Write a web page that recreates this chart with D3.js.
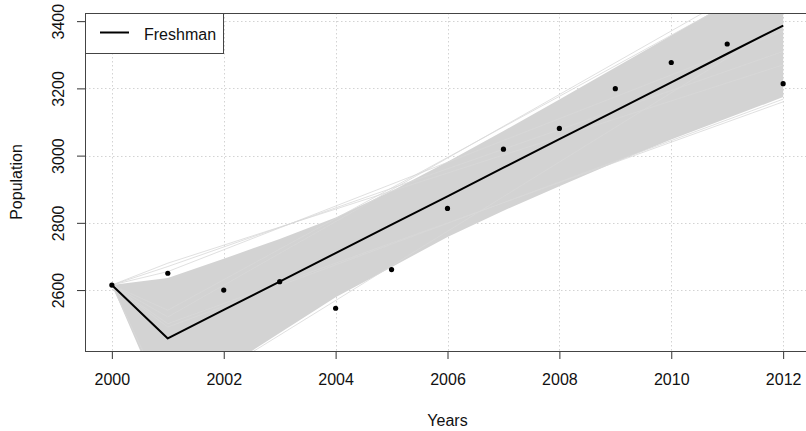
<!DOCTYPE html>
<html>
<head>
<meta charset="utf-8">
<script src="https://cdn.jsdelivr.net/npm/d3@7"></script>
<style>
  html, body { margin: 0; padding: 0; background: #fff; }
  svg { display: block; }
  text { font-family: "Liberation Sans", Arial, sans-serif; fill: #111; }
</style>
</head>
<body>
<svg id="chart" width="806" height="431"></svg>
<script>
// Freshman enrolment, observed counts and fitted trend
const years = [2000, 2001, 2002, 2003, 2004, 2005, 2006, 2007, 2008, 2009, 2010, 2011, 2012];
const freshman = [2615, 2650, 2600, 2625, 2546, 2661, 2843, 3019, 3081, 3199, 3277, 3332, 3214];
const fitted = [2615, 2456, 2541, 2625, 2710, 2795, 2879, 2964, 3049, 3133, 3218, 3303, 3387];

// Envelope of the simulated trajectories
const bandUpper = [2615, 2636, 2693, 2752, 2816, 2895, 2982, 3073, 3167, 3262, 3357, 3452, 3548];
const bandLower = [2615, 2230, 2365, 2472, 2579, 2668, 2758, 2836, 2909, 2980, 3048, 3111, 3174];

// A few stray trajectories at the edge of the envelope (2000, 2001, 2012)
const strayYears = [2000, 2001, 2012];
const strayUpper1 = [2615, 2680, 3270];
const strayUpper2 = [2615, 2670, 3310];
const strayUpper3 = [2615, 2655, 3370];
const strayUpper4 = [2615, 2520, 3560];
const strayUpper5 = [2615, 2540, 3540];
const strayLower1 = [2615, 2260, 3393];
const strayLower2 = [2615, 2500, 3160];
const strayLower3 = [2615, 2490, 3168];

const xTicks = [2000, 2002, 2004, 2006, 2008, 2010, 2012];
const yTicks = [2600, 2800, 3000, 3200, 3400];
const seriesName = "Freshman";
const xTitle = "Years";
const yTitle = "Population";

const svg = d3.select("#chart");
const plot = { left: 85, right: 810, top: 13, bottom: 351 };

// R-style 4% padding around the data range
const xMin = d3.min(years), xMax = d3.max(years);
const xPad = (xMax - xMin) * 0.04;
const x = d3.scaleLinear().domain([xMin - xPad, xMax + xPad]).range([plot.left, plot.right]);
const yLo = d3.min(fitted), yHi = d3.max(fitted);
const yPad = (yHi - yLo) * 0.04;
const y = d3.scaleLinear().domain([yLo - yPad, yHi + yPad]).range([plot.bottom, plot.top]);

svg.append("defs").append("clipPath").attr("id", "plotClip")
  .append("rect")
  .attr("x", plot.left).attr("y", plot.top)
  .attr("width", plot.right - plot.left).attr("height", plot.bottom - plot.top);

// grid
const grid = svg.append("g").attr("stroke", "#d3d3d3").attr("stroke-width", 1)
  .attr("stroke-dasharray", "1.5,2.5");
grid.selectAll("line.gx").data(xTicks).join("line")
  .attr("x1", d => Math.round(x(d)) + 0.5).attr("x2", d => Math.round(x(d)) + 0.5)
  .attr("y1", plot.top).attr("y2", plot.bottom);
grid.selectAll("line.gy").data(yTicks).join("line")
  .attr("x1", plot.left).attr("x2", plot.right)
  .attr("y1", d => Math.round(y(d)) + 0.5).attr("y2", d => Math.round(y(d)) + 0.5);

const layer = svg.append("g").attr("clip-path", "url(#plotClip)");

// simulation envelope
const area = d3.area()
  .x((d, i) => x(years[i]))
  .y0((d, i) => y(bandLower[i]))
  .y1((d, i) => y(bandUpper[i]));
layer.append("path").datum(years).attr("d", area).attr("fill", "#d3d3d3");

// stray trajectories
const strayLine = d3.line().x((d, i) => x(strayYears[i])).y(d => y(d));
[strayUpper1, strayUpper2, strayUpper3, strayUpper4, strayUpper5,
 strayLower1, strayLower2, strayLower3].forEach(s => {
  layer.append("path").datum(s).attr("d", strayLine)
    .attr("fill", "none").attr("stroke", "#d8d8d8").attr("stroke-width", 0.8);
});

// fitted trend
const line = d3.line().x((d, i) => x(years[i])).y(d => y(d));
layer.append("path").datum(fitted).attr("d", line)
  .attr("fill", "none").attr("stroke", "#000").attr("stroke-width", 2)
  .attr("stroke-linejoin", "round");

// observed points
layer.selectAll("circle").data(freshman).join("circle")
  .attr("cx", (d, i) => x(years[i])).attr("cy", d => y(d))
  .attr("r", 2.6).attr("fill", "#000");

// axes
const xAxis = d3.axisBottom(x).tickValues(xTicks).tickSize(8).tickPadding(15)
  .tickFormat(d3.format("d"));
const gx = svg.append("g").attr("transform", `translate(0,${plot.bottom})`).call(xAxis);
gx.select(".domain").remove();
gx.selectAll("line").attr("stroke", "#333");
gx.selectAll("text").attr("font-size", 16).attr("fill", "#111")
  .attr("font-family", "Liberation Sans, Arial, sans-serif");

const yAxis = d3.axisLeft(y).tickValues(yTicks).tickSize(8).tickFormat(d3.format("d"));
const gy = svg.append("g").attr("transform", `translate(${plot.left},0)`).call(yAxis);
gy.select(".domain").remove();
gy.selectAll("line").attr("stroke", "#333");
gy.selectAll("text")
  .attr("x", null).attr("dy", null)
  .attr("transform", "translate(-21.5,0) rotate(-90)")
  .attr("text-anchor", "middle")
  .attr("font-size", 16).attr("fill", "#111")
  .attr("font-family", "Liberation Sans, Arial, sans-serif");

// frame
svg.append("rect")
  .attr("x", plot.left + 0.5).attr("y", plot.top + 0.5)
  .attr("width", plot.right - plot.left).attr("height", plot.bottom - plot.top)
  .attr("fill", "none").attr("stroke", "#444").attr("stroke-width", 1);

// axis titles
svg.append("text").attr("x", (plot.left + plot.right) / 2).attr("y", 426)
  .attr("text-anchor", "middle").attr("font-size", 16).text(xTitle);
svg.append("text").attr("transform", `translate(22,${(plot.top + plot.bottom) / 2}) rotate(-90)`)
  .attr("text-anchor", "middle").attr("font-size", 16).text(yTitle);

// legend
const lg = svg.append("g");
lg.append("rect").attr("x", plot.left + 0.5).attr("y", plot.top + 0.5)
  .attr("width", 138).attr("height", 40)
  .attr("fill", "#fff").attr("stroke", "#444");
lg.append("line").attr("x1", 100).attr("x2", 129).attr("y1", 32.5).attr("y2", 32.5)
  .attr("stroke", "#000").attr("stroke-width", 2);
lg.append("text").attr("x", 144).attr("y", 40).attr("font-size", 16).text(seriesName);
</script>
</body>
</html>
